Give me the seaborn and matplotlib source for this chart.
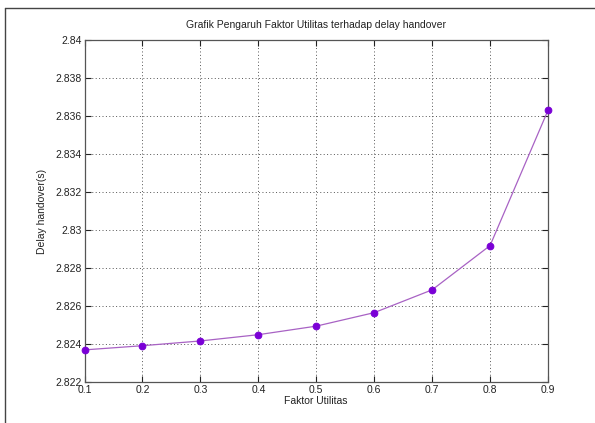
import matplotlib
matplotlib.use("Agg")
import matplotlib.pyplot as plt
import seaborn as sns
import pandas as pd
from matplotlib.lines import Line2D

faktor = [0.1, 0.2, 0.3, 0.4, 0.5, 0.6, 0.7, 0.8, 0.9]
delay = [2.82369, 2.82391, 2.82416, 2.82449, 2.82494, 2.82565, 2.82685, 2.82918, 2.83630]
xticks = [0.1, 0.2, 0.3, 0.4, 0.5, 0.6, 0.7, 0.8, 0.9]
xtick_labels = ["0.1", "0.2", "0.3", "0.4", "0.5", "0.6", "0.7", "0.8", "0.9"]
yticks = [2.822, 2.824, 2.826, 2.828, 2.830, 2.832, 2.834, 2.836, 2.838, 2.840]
ytick_labels = ["2.822", "2.824", "2.826", "2.828", "2.83", "2.832", "2.834", "2.836", "2.838", "2.84"]

sns.set_style("white")
plt.rcParams['font.family'] = ['Liberation Sans', 'DejaVu Sans']

df = pd.DataFrame({"Faktor Utilitas": faktor, "Delay": delay})

W, H = 595, 423
fig = plt.figure(figsize=(W / 100, H / 100), dpi=100)
left, right, top, bottom = 84.5, 548, 40, 382
ax = fig.add_axes([left / W, 1 - bottom / H, (right - left) / W, (bottom - top) / H])

sns.lineplot(data=df, x="Faktor Utilitas", y="Delay", ax=ax, color="#a862c4",
             linewidth=0.9, marker="o", markersize=4.8, markerfacecolor="#7a00d6",
             markeredgecolor="#7a00d6", zorder=3, clip_on=False)

ax.set_xlim(0.1, 0.9)
ax.set_ylim(2.822, 2.840)
ax.set_xticks(xticks)
ax.set_xticklabels(xtick_labels)
ax.set_yticks(yticks)
ax.set_yticklabels(ytick_labels)
ax.tick_params(direction="in", length=4, width=0.8, labelsize=7.5, colors="#222222",
               top=True, right=True, bottom=True, left=True, pad=2)
ax.grid(True, linestyle=(0, (1, 2.5)), color="#555555", linewidth=0.7)
for s in ax.spines.values():
    s.set_color("#555555")
    s.set_linewidth(0.9)
    s.set_visible(True)

ax.set_xlabel("Faktor Utilitas", fontsize=7.5, labelpad=1, color="#222222")
ax.set_ylabel("Delay handover(s)", fontsize=7.5, labelpad=6, color="#222222")
ax.set_title("Grafik Pengaruh Faktor Utilitas terhadap delay handover", fontsize=7.5,
             pad=9, color="#222222")

# outer window border (top and left edges visible)
fig.add_artist(Line2D([5 / W, 1], [1 - 8 / H, 1 - 8 / H], transform=fig.transFigure,
                      color="#444444", linewidth=1.0))
fig.add_artist(Line2D([5 / W, 5 / W], [1 - 8 / H, 0], transform=fig.transFigure,
                      color="#444444", linewidth=1.0))

fig.savefig("out.png", dpi=100)
